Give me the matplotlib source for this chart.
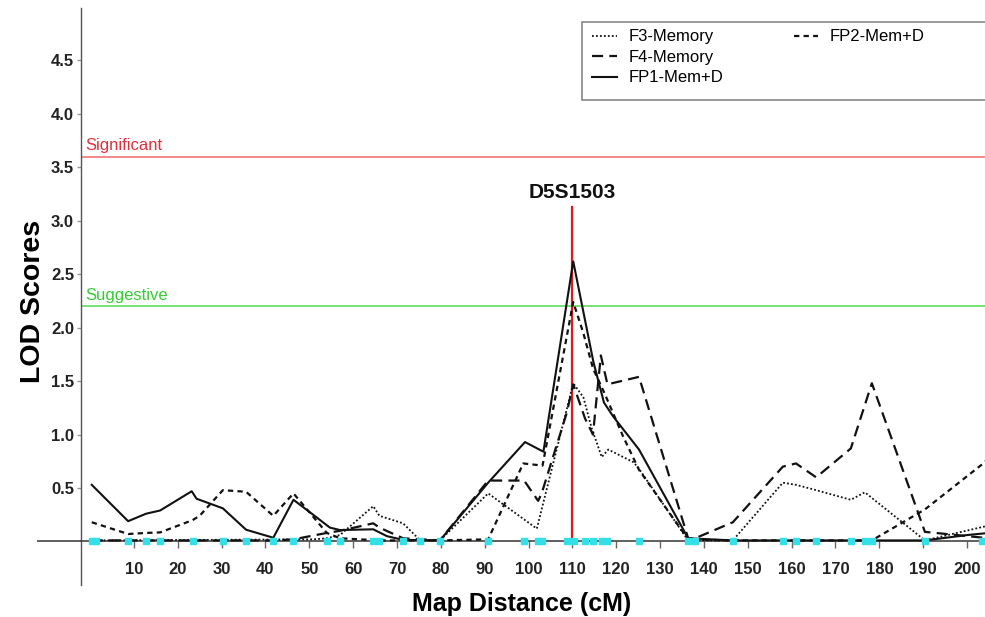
import matplotlib
matplotlib.use("Agg")
import matplotlib.pyplot as plt
from matplotlib.lines import Line2D
from matplotlib.patches import Rectangle

plt.rcParams['font.family'] = ['Liberation Sans', 'DejaVu Sans']

# ---------------- data ----------------
marker_cm = [0.4, 1.4, 8.7, 12.8, 16.0, 23.4, 30.3, 35.6, 41.8, 46.4, 54.0, 57.0,
             64.6, 66.0, 71.4, 75.3, 79.8, 90.8, 99.0, 102.2, 103.0, 108.7, 110.4,
             112.9, 114.7, 116.8, 118.0, 125.2, 136.4, 138.0, 146.6, 158.0, 161.0,
             165.6, 173.5, 176.7, 178.3, 190.4, 203.4]

f3_x = [0.4, 50.9, 54.0, 57.0, 64.6, 66.0, 71.4, 75.3, 79.8, 90.8, 101.9, 110.2,
        112.5, 114.4, 116.7, 118.2, 124.0, 125.2, 136.4, 146.6, 158.0, 161.0,
        165.6, 173.5, 176.7, 190.4, 205.0]
f3_y = [0.01, 0.02, 0.03, 0.06, 0.33, 0.24, 0.17, 0.01, 0.01, 0.45, 0.12, 1.48,
        1.35, 1.06, 0.79, 0.86, 0.74, 0.68, 0.01, 0.01, 0.55, 0.53,
        0.48, 0.39, 0.46, 0.01, 0.15]

f4_x = [0.4, 41.8, 46.4, 54.0, 57.0, 64.6, 66.0, 71.4, 79.8, 90.8, 99.0, 102.2,
        103.0, 108.7, 110.2, 112.9, 114.7, 116.5, 118.0, 125.2, 136.4, 138.0,
        146.6, 158.0, 161.0, 165.6, 173.5, 178.3, 190.4, 205.0]
f4_y = [0.01, 0.01, 0.02, 0.08, 0.10, 0.17, 0.13, 0.03, 0.01, 0.57, 0.57, 0.38,
        0.45, 1.20, 1.47, 1.15, 1.00, 1.74, 1.47, 1.54, 0.03, 0.03,
        0.18, 0.70, 0.73, 0.60, 0.87, 1.48, 0.09, 0.03]

fp1_x = [0.4, 8.7, 12.8, 16.0, 23.2, 24.3, 30.3, 35.6, 41.8, 46.4, 50.9, 54.7,
         57.0, 64.6, 67.7, 71.4, 79.8, 90.8, 99.2, 103.4, 110.2, 114.8, 117.2,
         119.3, 125.2, 136.4, 146.6, 178.3, 190.4, 200.0, 205.0]
fp1_y = [0.53, 0.19, 0.26, 0.29, 0.47, 0.40, 0.31, 0.11, 0.035, 0.39, 0.25, 0.13,
         0.107, 0.114, 0.05, 0.015, 0.01, 0.55, 0.93, 0.84, 2.62, 1.68, 1.30,
         1.17, 0.86, 0.03, 0.01, 0.01, 0.01, 0.06, 0.08]

fp2_x = [0.4, 8.7, 12.8, 16.0, 23.4, 25.0, 30.3, 35.6, 41.8, 46.4, 54.0, 57.0,
         66.0, 79.8, 90.8, 98.8, 103.2, 110.2, 112.5, 114.7, 117.4, 121.6, 125.2,
         136.4, 146.6, 178.3, 190.4, 203.4, 205.0]
fp2_y = [0.18, 0.07, 0.08, 0.085, 0.20, 0.24, 0.48, 0.465, 0.24, 0.45, 0.08, 0.03,
         0.01, 0.01, 0.02, 0.73, 0.71, 2.24, 1.95, 1.62, 1.38, 0.98, 0.67,
         0.02, 0.01, 0.01, 0.30, 0.72, 0.78]

significant = 3.6
suggestive = 2.2
peak_marker_cm = 110
peak_marker_top = 3.13
peak_label = "D5S1503"

x_ticks = list(range(10, 201, 10))
y_ticks = [0.5, 1.0, 1.5, 2.0, 2.5, 3.0, 3.5, 4.0, 4.5]

# ---------------- figure ----------------
W, H = 985, 617
fig = plt.figure(figsize=(W / 100, H / 100), dpi=100)
ax = fig.add_axes([81 / W, 32 / H, 904 / W, 577 / H])
ax.set_xlim(-2.05, 204.1)
ax.set_ylim(-0.407, 4.99)

for s in ['top', 'right']:
    ax.spines[s].set_visible(False)
ax.spines['left'].set_color('#555555')
ax.spines['left'].set_linewidth(1.0)
ax.spines['bottom'].set_position(('data', 0))
ax.spines['bottom'].set_color('#444444')
ax.spines['bottom'].set_linewidth(1.2)
# extension of the zero line to the left of the y axis
ax.plot([-12.1, -2.05], [0, 0], color='#444444', lw=1.2, clip_on=False,
        solid_capstyle='butt')

ax.set_xticks(x_ticks)
ax.set_xticklabels([str(t) for t in x_ticks])
ax.set_yticks(y_ticks)
ax.set_yticklabels([f"{t:.1f}" for t in y_ticks])
ax.tick_params(axis='x', direction='out', length=5, width=1, color='#666666',
               pad=10, labelsize=12, labelcolor='#222222')
ax.tick_params(axis='y', direction='out', length=3, width=1, color='#999999',
               pad=2, labelsize=12, labelcolor='#222222')
for lab in ax.get_xticklabels() + ax.get_yticklabels():
    lab.set_fontweight('bold')

# threshold lines
ax.axhline(significant, color='#f06a6a', lw=1.1, zorder=1)
ax.axhline(suggestive, color='#4fdc4f', lw=1.1, zorder=1)
ax.text(-1.1, significant + 0.03, "Significant", color='#e0303a', fontsize=12,
        ha='left', va='bottom')
ax.text(-1.1, suggestive + 0.03, "Suggestive", color='#33cc33', fontsize=12,
        ha='left', va='bottom')

# peak marker
ax.plot([peak_marker_cm, peak_marker_cm], [0, peak_marker_top], color='#e01818',
        lw=1.6, zorder=2)
ax.text(peak_marker_cm, peak_marker_top + 0.05, peak_label, fontsize=15,
        fontweight='bold', ha='center', va='bottom', color='#111111')

col = '#111111'
l3, = ax.plot(f3_x, f3_y, color=col, lw=1.3, linestyle=(0, (1, 1.2)), zorder=3)
l4, = ax.plot(f4_x, f4_y, color=col, lw=1.6, linestyle=(0, (5, 2.8)), zorder=3)
l1, = ax.plot(fp1_x, fp1_y, color=col, lw=1.5, linestyle='-', zorder=3)
l2, = ax.plot(fp2_x, fp2_y, color=col, lw=1.6, linestyle=(0, (2.4, 1.9)), zorder=3)

# markers on the axis
ax.plot(marker_cm, [0] * len(marker_cm), linestyle='none', marker='s',
        ms=4.5, color='#33e0e8', mec='#33e0e8', zorder=5, clip_on=False)

ax.set_xlabel("Map Distance (cM)", fontsize=18, fontweight='bold')
ax.xaxis.set_label_coords(0.487, -0.012)
ax.set_ylabel("LOD Scores", fontsize=20.5, fontweight='bold')
ax.yaxis.set_label_coords(-0.039, 0.492)

# legend box
fig.patches.append(Rectangle((582 / W, 1 - 100 / H), 420 / W, 78 / H,
                             transform=fig.transFigure, fill=True, facecolor='white',
                             edgecolor='#888888', lw=1.2, zorder=10))
blank = Line2D([], [], color='none')
leg = fig.legend([l3, l4, l1, l2, blank, blank],
                 ["F3-Memory", "F4-Memory", "FP1-Mem+D", "FP2-Mem+D", " ", " "],
                 ncol=2, loc='upper left', bbox_to_anchor=(579 / W, 1 - 16 / H),
                 bbox_transform=fig.transFigure, frameon=False, fontsize=12,
                 handlelength=1.45, handletextpad=0.7, columnspacing=4.25,
                 labelspacing=0.33, borderpad=0.3)
leg.set_zorder(11)

fig.savefig("out.png", dpi=100)
